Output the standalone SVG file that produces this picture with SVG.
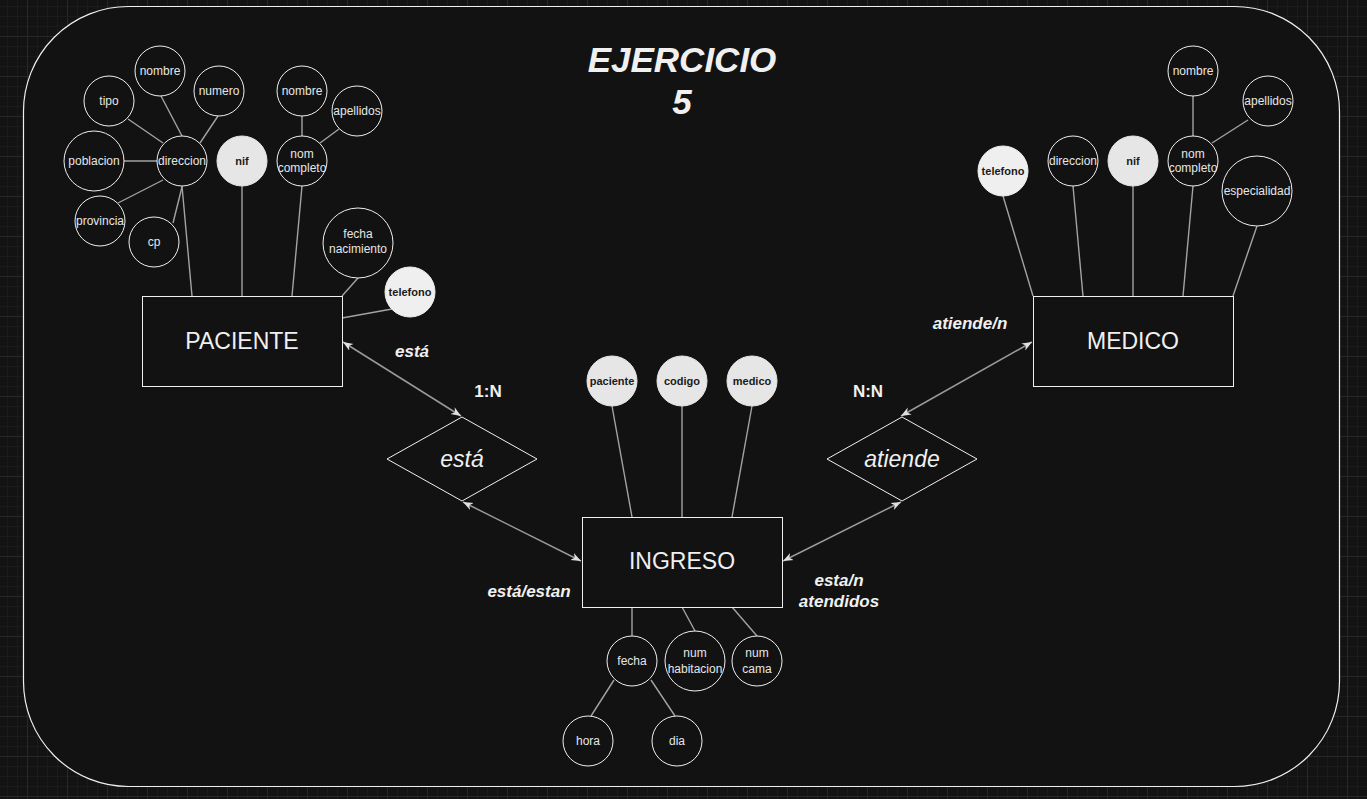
<svg xmlns="http://www.w3.org/2000/svg" width="1367" height="799" viewBox="0 0 1367 799">
<defs>
<pattern id="grid" width="40" height="40" patternUnits="userSpaceOnUse" x="27" y="36">
<rect width="40" height="40" fill="#131313"/>
<path d="M10.5 0V40M20.5 0V40M30.5 0V40M0 10.5H40M0 20.5H40M0 30.5H40" stroke="#1b1b1b" stroke-width="1"/>
<path d="M0.5 0V40M0 0.5H40" stroke="#282828" stroke-width="1"/>
</pattern>
<marker id="arr" viewBox="0 0 10 10" refX="10" refY="5" markerWidth="10" markerHeight="10" markerUnits="userSpaceOnUse" orient="auto-start-reverse">
<path d="M0,1 L10,5 L0,9 L3,5 Z" fill="#e0e0e0"/>
</marker>
<style>
.box{fill:#121212;stroke:#f0f0f0;stroke-width:1}
.att{fill:#121212;stroke:#f0f0f0;stroke-width:1}
.key{fill:#e6e6e6;stroke:#e6e6e6;stroke-width:1}
.key2{fill:#efefef;stroke:#efefef;stroke-width:1}
.ln{stroke:#a3a3a3;stroke-width:1.4;fill:none}
.rel{stroke:#9a9a9a;stroke-width:1.5;fill:none;marker-start:url(#arr);marker-end:url(#arr)}
text{font-family:"Liberation Sans",Arial,sans-serif;text-anchor:middle}
.t{font-size:12px;fill:#e6e6e6}
.tk{font-size:11px;font-weight:bold;fill:#1a1a1a}
.ent{font-size:23px;fill:#f0f0f0}
.dia{font-size:23px;font-style:italic;fill:#f0f0f0}
.lbl{font-size:17px;font-weight:bold;font-style:italic;fill:#f0f0f0}
.card{font-size:17px;font-weight:bold;fill:#f0f0f0}
.title{font-size:35px;font-weight:bold;font-style:italic;fill:#f0f0f0}
</style>
</defs>
<rect width="1367" height="799" fill="url(#grid)"/>
<rect x="23.5" y="6.5" width="1316" height="780" rx="105" ry="105" fill="#121212" stroke="#f0f0f0" stroke-width="1.2"/>

<g id="title">
<text class="title" x="682" y="72">EJERCICIO</text>
<text class="title" x="682" y="114">5</text>
</g>

<g id="connectors">
<!-- PACIENTE cluster -->
<line class="ln" x1="128" y1="119" x2="163" y2="143"/>
<line class="ln" x1="161" y1="96" x2="182" y2="136"/>
<line class="ln" x1="218" y1="116" x2="200" y2="143"/>
<line class="ln" x1="124" y1="161" x2="157" y2="161"/>
<line class="ln" x1="118" y1="203" x2="163" y2="180"/>
<line class="ln" x1="173" y1="223" x2="182" y2="187"/>
<line class="ln" x1="182" y1="186" x2="192" y2="296"/>
<line class="ln" x1="242" y1="186" x2="242" y2="296"/>
<line class="ln" x1="302" y1="186" x2="292" y2="296"/>
<line class="ln" x1="302" y1="116" x2="302" y2="136"/>
<line class="ln" x1="339" y1="129" x2="320" y2="143"/>
<line class="ln" x1="358" y1="278" x2="342" y2="296"/>
<line class="ln" x1="392" y1="309" x2="342" y2="318"/>
<!-- MEDICO cluster -->
<line class="ln" x1="1003" y1="196" x2="1033" y2="296"/>
<line class="ln" x1="1073" y1="186" x2="1083" y2="296"/>
<line class="ln" x1="1133" y1="186" x2="1133" y2="296"/>
<line class="ln" x1="1193" y1="186" x2="1183" y2="296"/>
<line class="ln" x1="1257" y1="226" x2="1233" y2="296"/>
<line class="ln" x1="1193" y1="96" x2="1193" y2="136"/>
<line class="ln" x1="1248" y1="120" x2="1212" y2="143"/>
<!-- INGRESO cluster -->
<line class="ln" x1="612" y1="406" x2="632" y2="517"/>
<line class="ln" x1="682" y1="406" x2="682" y2="517"/>
<line class="ln" x1="752" y1="406" x2="732" y2="517"/>
<line class="ln" x1="632" y1="607" x2="632" y2="636"/>
<line class="ln" x1="682" y1="607" x2="695" y2="631"/>
<line class="ln" x1="732" y1="607" x2="757" y2="636"/>
<line class="ln" x1="614" y1="680" x2="591" y2="716"/>
<line class="ln" x1="651" y1="680" x2="675" y2="716"/>
<!-- relationships -->
<line class="rel" x1="343" y1="342" x2="461" y2="416"/>
<line class="rel" x1="463" y1="502" x2="581" y2="561"/>
<line class="rel" x1="1032" y1="342" x2="901" y2="416"/>
<line class="rel" x1="901" y1="502" x2="783" y2="561"/>
</g>

<g id="paciente">
<rect class="box" x="142.5" y="296.5" width="200" height="90"/>
<text class="ent" x="242" y="349">PACIENTE</text>
</g>
<g id="medico">
<rect class="box" x="1033.5" y="296.5" width="200" height="90"/>
<text class="ent" x="1133" y="349">MEDICO</text>
</g>
<g id="ingreso">
<rect class="box" x="582.5" y="517.5" width="200" height="90"/>
<text class="ent" x="682" y="569">INGRESO</text>
</g>

<g id="rel-esta">
<polygon class="box" points="462,417 537,459 462,501 387,459"/>
<text class="dia" x="462" y="467">está</text>
</g>
<g id="rel-atiende">
<polygon class="box" points="902,417 977,459 902,501 827,459"/>
<text class="dia" x="902" y="467">atiende</text>
</g>

<g id="p-tipo"><circle class="att" cx="109" cy="101" r="25"/><text class="t" x="109" y="105">tipo</text></g>
<g id="p-dir-nombre"><circle class="att" cx="160" cy="71" r="25"/><text class="t" x="160" y="75">nombre</text></g>
<g id="p-numero"><circle class="att" cx="219" cy="91" r="25"/><text class="t" x="219" y="95">numero</text></g>
<g id="p-poblacion"><circle class="att" cx="94" cy="161" r="30"/><text class="t" x="94" y="165">poblacion</text></g>
<g id="p-direccion"><circle class="att" cx="182" cy="161" r="25"/><text class="t" x="182" y="165">direccion</text></g>
<g id="p-provincia"><circle class="att" cx="100" cy="221" r="25"/><text class="t" x="100" y="225">provincia</text></g>
<g id="p-cp"><circle class="att" cx="154" cy="242" r="25"/><text class="t" x="154" y="246">cp</text></g>
<g id="p-nif"><circle class="key" cx="242" cy="161" r="25"/><text class="tk" x="242" y="165">nif</text></g>
<g id="p-nomcompleto"><circle class="att" cx="302" cy="161" r="25"/><text class="t" x="302" y="158">nom</text><text class="t" x="302" y="172">completo</text></g>
<g id="p-nombre"><circle class="att" cx="302" cy="91" r="25"/><text class="t" x="302" y="95">nombre</text></g>
<g id="p-apellidos"><circle class="att" cx="357" cy="111" r="25"/><text class="t" x="357" y="115">apellidos</text></g>
<g id="p-fechanac"><circle class="att" cx="358" cy="243" r="35"/><text class="t" x="358" y="238">fecha</text><text class="t" x="358" y="253">nacimiento</text></g>
<g id="p-telefono"><circle class="key2" cx="410" cy="292" r="25"/><text class="tk" x="410" y="296">telefono</text></g>

<g id="m-telefono"><circle class="key2" cx="1003" cy="171" r="25"/><text class="tk" x="1003" y="175">telefono</text></g>
<g id="m-direccion"><circle class="att" cx="1073" cy="161" r="25"/><text class="t" x="1073" y="165">direccion</text></g>
<g id="m-nif"><circle class="key" cx="1133" cy="161" r="25"/><text class="tk" x="1133" y="165">nif</text></g>
<g id="m-nomcompleto"><circle class="att" cx="1193" cy="161" r="25"/><text class="t" x="1193" y="158">nom</text><text class="t" x="1193" y="172">completo</text></g>
<g id="m-nombre"><circle class="att" cx="1193" cy="71" r="25"/><text class="t" x="1193" y="75">nombre</text></g>
<g id="m-apellidos"><circle class="att" cx="1268" cy="101" r="25"/><text class="t" x="1268" y="105">apellidos</text></g>
<g id="m-especialidad"><circle class="att" cx="1257" cy="191" r="35"/><text class="t" x="1257" y="195">especialidad</text></g>

<g id="i-paciente"><circle class="key" cx="612" cy="381" r="25"/><text class="tk" x="612" y="385">paciente</text></g>
<g id="i-codigo"><circle class="key" cx="682" cy="381" r="25"/><text class="tk" x="682" y="385">codigo</text></g>
<g id="i-medico"><circle class="key" cx="752" cy="381" r="25"/><text class="tk" x="752" y="385">medico</text></g>
<g id="i-fecha"><circle class="att" cx="632" cy="661" r="25"/><text class="t" x="632" y="665">fecha</text></g>
<g id="i-numhab"><circle class="att" cx="695" cy="661" r="30"/><text class="t" x="695" y="657">num</text><text class="t" x="695" y="673">habitacion</text></g>
<g id="i-numcama"><circle class="att" cx="757" cy="661" r="25"/><text class="t" x="757" y="657">num</text><text class="t" x="757" y="673">cama</text></g>
<g id="i-hora"><circle class="att" cx="588" cy="741" r="25"/><text class="t" x="588" y="745">hora</text></g>
<g id="i-dia"><circle class="att" cx="677" cy="741" r="25"/><text class="t" x="677" y="745">dia</text></g>

<g id="labels">
<text class="lbl" x="412" y="357">está</text>
<text class="card" x="488" y="397">1:N</text>
<text class="card" x="868" y="397">N:N</text>
<text class="lbl" x="970" y="329">atiende/n</text>
<text class="lbl" x="529" y="597">está/estan</text>
<text class="lbl" x="839" y="586">esta/n</text>
<text class="lbl" x="839" y="607">atendidos</text>
</g>
</svg>
